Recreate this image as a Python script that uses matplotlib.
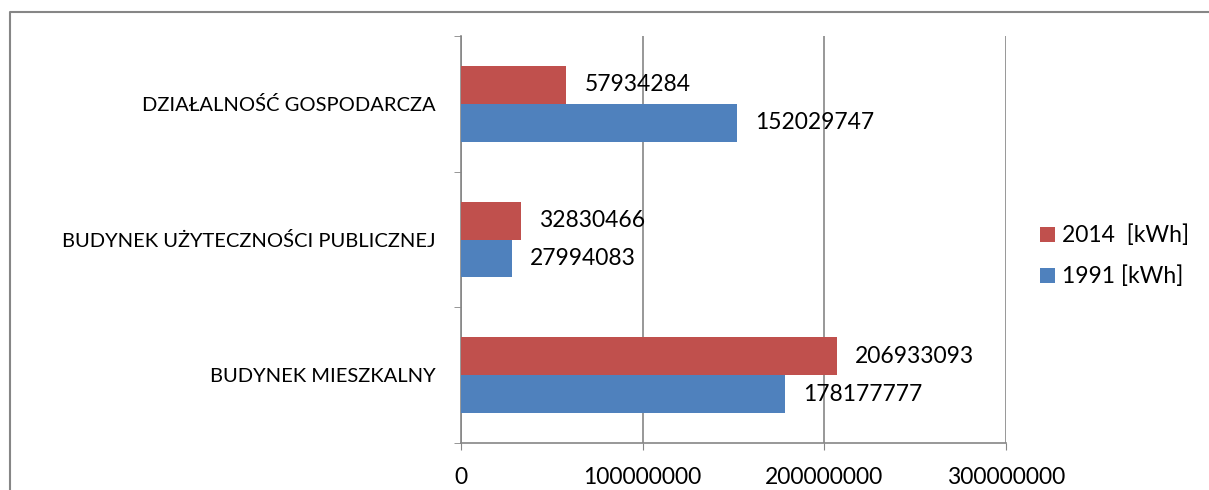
import matplotlib.pyplot as plt
import numpy as np
from matplotlib.lines import Line2D

plt.rcParams['font.family'] = ['Lato', 'DejaVu Sans']

categories = ['BUDYNEK MIESZKALNY', 'BUDYNEK UŻYTECZNOŚCI PUBLICZNEJ', 'DZIAŁALNOŚĆ GOSPODARCZA']
values_1991 = [178177777, 27994083, 152029747]
values_2014 = [206933093, 32830466, 57934284]
series_names = ['1991 [kWh]', '2014  [kWh]']
xticks = [0, 100000000, 200000000, 300000000]

W, H = 1209, 490
fig = plt.figure(figsize=(W / 100, H / 100), dpi=100)
# axes: x 461..1006 px, y 36..443 px
ax = fig.add_axes([461 / W, 1 - 443 / H, (1006 - 461) / W, (443 - 36) / H])

grey = '#868686'
y = np.arange(len(categories))
h = 0.28
b1 = ax.barh(y - h / 2, values_1991, height=h, color='#4F81BD', label=series_names[0], zorder=3)
b2 = ax.barh(y + h / 2, values_2014, height=h, color='#C0504D', label=series_names[1], zorder=3)

for bars, vals in ((b1, values_1991), (b2, values_2014)):
    for bar, v in zip(bars, vals):
        ax.annotate(str(v), (bar.get_width(), bar.get_y() + bar.get_height() / 2),
                    xytext=(13, 0), textcoords='offset points', va='center', ha='left',
                    fontsize=16.5, zorder=4)

ax.set_xlim(0, 300000000)
ax.set_ylim(-0.5, len(categories) - 0.5)
ax.set_xticks(xticks)
ax.set_xticklabels([str(t) for t in xticks], fontsize=16.5)
ax.set_yticks(y)
ax.set_yticklabels(categories, fontsize=14.5)
ax.tick_params(axis='y', length=0, pad=18)
ax.tick_params(axis='x', length=5, color=grey, pad=12, direction='out')
ax.set_yticks(np.arange(-0.5, len(categories), 1.0), minor=True)
ax.tick_params(axis='y', which='minor', length=5, color=grey)

ax.grid(axis='x', color=grey, linewidth=1.2, zorder=0)
for s in ('top', 'right'):
    ax.spines[s].set_visible(False)
for s in ('left', 'bottom'):
    ax.spines[s].set_color(grey)
    ax.spines[s].set_linewidth(1.2)

handles, labels = ax.get_legend_handles_labels()
fig.legend(handles[::-1], labels[::-1], loc='center left', bbox_to_anchor=(1040 / W, 1 - 256 / H),
           frameon=False, fontsize=16.5, handlelength=0.65, handleheight=0.65,
           handletextpad=0.3, labelspacing=0.85, borderpad=0, borderaxespad=0)

# chart frame
fig.add_artist(Line2D([10 / W, 10 / W, 1.0], [0.0, 1 - 12 / H, 1 - 12 / H],
                      transform=fig.transFigure, color=grey, linewidth=1.5))

fig.savefig('out.png', dpi=100)
